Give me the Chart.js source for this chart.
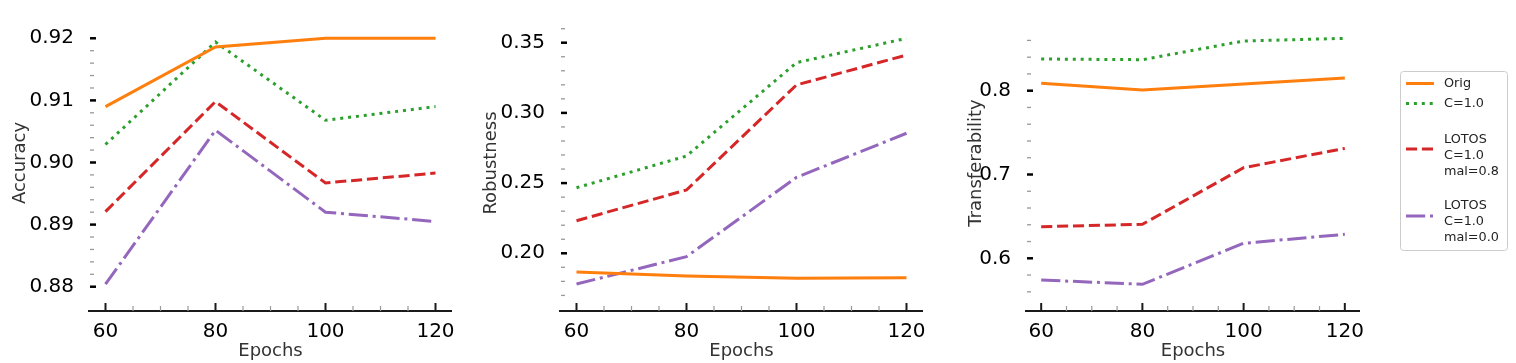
<!DOCTYPE html>
<html>
<head>
<meta charset="utf-8">
<script src="https://cdn.jsdelivr.net/npm/chart.js@4.4.0/dist/chart.umd.min.js"></script>
<style>
  html, body { margin: 0; padding: 0; background: #fff; }
  #wrap { position: relative; width: 1516px; height: 363px; }
  #wrap canvas { position: absolute; left: 0; top: 0; }
</style>
</head>
<body>
<div id="wrap">
  <canvas id="acc" width="1516" height="363"></canvas>
  <canvas id="rob" width="1516" height="363"></canvas>
  <canvas id="tra" width="1516" height="363"></canvas>
</div>
<script>
// data
const epochs = [60, 80, 100, 120];
const seriesNames = ['Orig', 'C=1.0', 'LOTOS\nC=1.0\nmal=0.8', 'LOTOS\nC=1.0\nmal=0.0'];

const accOrig  = [0.9090, 0.9186, 0.9200, 0.9200];
const accC10   = [0.9029, 0.9194, 0.9068, 0.9090];
const accMal08 = [0.8921, 0.9098, 0.8967, 0.8983];
const accMal00 = [0.8804, 0.9052, 0.8920, 0.8905];

const robOrig  = [0.1867, 0.1838, 0.1822, 0.1826];
const robC10   = [0.2467, 0.2693, 0.3358, 0.3531];
const robMal08 = [0.2232, 0.2451, 0.3199, 0.3412];
const robMal00 = [0.1781, 0.1976, 0.2541, 0.2855];

const traOrig  = [0.8088, 0.8008, 0.8080, 0.8152];
const traC10   = [0.8378, 0.8370, 0.8593, 0.8625];
const traMal08 = [0.6377, 0.6406, 0.7081, 0.7312];
const traMal00 = [0.5741, 0.5690, 0.6179, 0.6286];

const accTicks = [0.88, 0.89, 0.90, 0.91, 0.92];
const robTicks = [0.20, 0.25, 0.30, 0.35];
const traTicks = [0.6, 0.7, 0.8];

const LW = 3;
const styles = [
  { color: '#ff7f0e', dash: [] },
  { color: '#2ca02c', dash: [3, 4.9] },
  { color: '#d62728', dash: [11.1, 4.8] },
  { color: '#9467bd', dash: [19.2, 4.8, 3, 4.8] }
];

const FONT = 'DejaVu Sans';

// spines, inward ticks, axis titles and the legend
const axisDeco = {
  id: 'axisDeco',
  afterDraw(chart, args, o) {
    const ctx = chart.ctx, a = chart.chartArea;
    const xs = chart.scales.x, ys = chart.scales.y;
    const seg = (x1, y1, x2, y2) => { ctx.beginPath(); ctx.moveTo(x1, y1); ctx.lineTo(x2, y2); ctx.stroke(); };
    ctx.save();

    ctx.strokeStyle = '#1a1a1a';
    ctx.lineWidth = 2;
    seg(a.left - 1, a.bottom, a.right, a.bottom);

    // x ticks
    ctx.lineWidth = 2;
    epochs.forEach(v => { const p = xs.getPixelForValue(v); seg(p, a.bottom, p, a.bottom - 8); });
    ctx.strokeStyle = '#999';
    ctx.lineWidth = 1.2;
    for (let v = 65; v < 120; v += 5) {
      if (v % 20 === 0) continue;
      const p = xs.getPixelForValue(v);
      seg(p, a.bottom, p, a.bottom - 5);
    }

    // y ticks
    ctx.strokeStyle = '#000';
    ctx.lineWidth = 2.5;
    o.ticks.forEach(v => { const p = ys.getPixelForValue(v); seg(a.left + 1, p, a.left + 7, p); });
    ctx.strokeStyle = '#999';
    ctx.lineWidth = 1.3;
    const n = Math.round((o.minorTo - o.minorFrom) / o.minorStep);
    for (let i = 0; i <= n; i++) {
      const v = o.minorFrom + i * o.minorStep;
      if (o.ticks.some(t => Math.abs(t - v) < o.minorStep / 10)) continue;
      const p = ys.getPixelForValue(v);
      seg(a.left + 1, p, a.left + 5, p);
    }

    // titles
    ctx.fillStyle = '#333';
    ctx.font = '18px "' + FONT + '"';
    ctx.textAlign = 'center';
    ctx.textBaseline = 'middle';
    ctx.fillText('Epochs', (a.left + a.right) / 2, 351);
    ctx.save();
    ctx.translate(a.left - o.yTitleGap, 163);
    ctx.rotate(-Math.PI / 2);
    ctx.fillText(o.yTitle, 0, 0);
    ctx.restore();

    if (o.legend) {
      ctx.fillStyle = 'rgba(255,255,255,0.8)';
      ctx.strokeStyle = '#cccccc';
      ctx.lineWidth = 1;
      ctx.beginPath();
      ctx.roundRect(1400.5, 71.5, 107, 179, 3);
      ctx.fill();
      ctx.stroke();
      const textY = [83.5, 103.5, 140, 206];
      const handleY = [83.5, 103.5, 149, 216];
      ctx.font = '12.8px "' + FONT + '"';
      ctx.textAlign = 'left';
      chart.data.datasets.forEach((ds, i) => {
        ctx.strokeStyle = ds.borderColor;
        ctx.lineWidth = LW;
        ctx.setLineDash(ds.borderDash);
        seg(1406, handleY[i], 1434, handleY[i]);
        ctx.setLineDash([]);
        ctx.fillStyle = '#222';
        ds.label.split('\n').forEach((line, k) => ctx.fillText(line, 1444, textY[i] + k * 15.7));
      });
    }
    ctx.restore();
  }
};

function makePanel(id, values, cfg) {
  const datasets = values.map((vals, i) => ({
    label: seriesNames[i],
    data: vals.map((v, j) => ({ x: epochs[j], y: v })),
    borderColor: styles[i].color,
    borderDash: styles[i].dash,
    borderWidth: LW,
    pointRadius: 0,
    tension: 0,
    fill: false
  }));
  return new Chart(document.getElementById(id), {
    type: 'line',
    data: { datasets: datasets },
    options: {
      responsive: false,
      animation: false,
      events: [],
      layout: { padding: { left: cfg.left - 60, right: 1516 - cfg.right, top: 24, bottom: 363 - 311 - 30 } },
      plugins: {
        legend: { display: false },
        tooltip: { enabled: false },
        axisDeco: cfg
      },
      scales: {
        x: {
          type: 'linear', min: 57, max: 123,
          afterBuildTicks: s => { s.ticks = epochs.map(v => ({ value: v })); },
          afterFit: s => { s.height = 30; },
          grid: { display: false },
          border: { display: false },
          ticks: { padding: 1, color: '#000', font: { family: FONT, size: 20 }, callback: v => String(v) }
        },
        y: {
          min: cfg.min, max: cfg.max,
          afterBuildTicks: s => { s.ticks = cfg.ticks.map(v => ({ value: v })); },
          afterFit: s => { s.width = 60; },
          grid: { display: false },
          border: { display: false },
          ticks: { padding: 7, color: '#000', font: { family: FONT, size: 20 }, callback: v => v.toFixed(cfg.decimals) }
        }
      }
    },
    plugins: [axisDeco]
  });
}

makePanel('acc', [accOrig, accC10, accMal08, accMal00], {
  left: 89, right: 452, min: 0.87609, max: 0.92230, ticks: accTicks, decimals: 2,
  minorFrom: 0.880, minorTo: 0.920, minorStep: 0.002, yTitle: 'Accuracy', yTitleGap: 69
});
makePanel('rob', [robOrig, robC10, robMal08, robMal00], {
  left: 560, right: 923, min: 0.15890, max: 0.36332, ticks: robTicks, decimals: 2,
  minorFrom: 0.17, minorTo: 0.36, minorStep: 0.01, yTitle: 'Robustness', yTitleGap: 69
});
makePanel('tra', [traOrig, traC10, traMal08, traMal00], {
  left: 1026, right: 1360, min: 0.53711, max: 0.87959, ticks: traTicks, decimals: 1,
  minorFrom: 0.56, minorTo: 0.86, minorStep: 0.02, yTitle: 'Transferability', yTitleGap: 50, legend: true
});
</script>
</body>
</html>
